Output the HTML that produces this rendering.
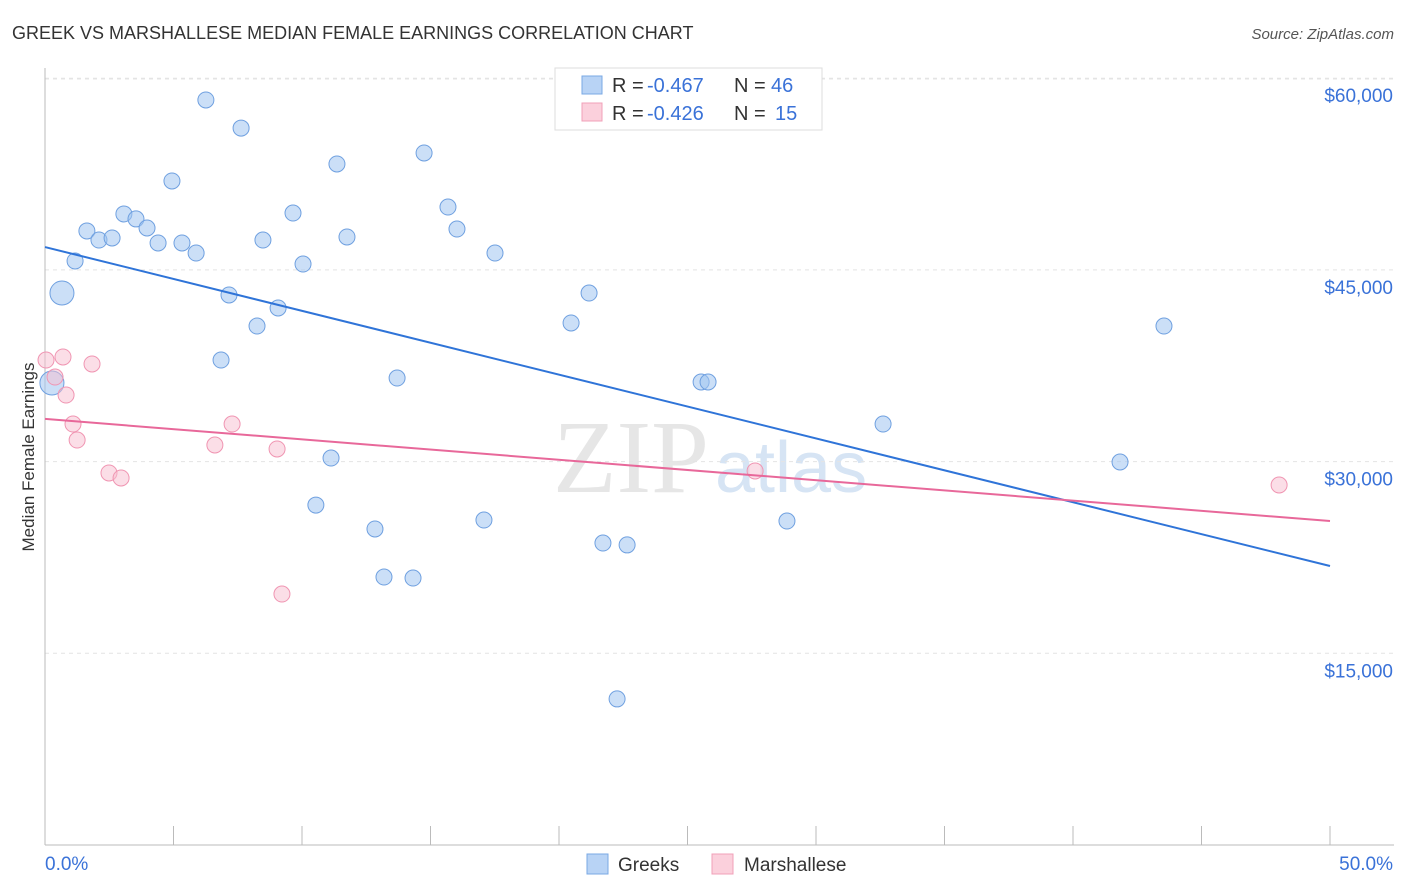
<!DOCTYPE html>
<html><head><meta charset="utf-8"><style>
body{margin:0;background:#fff;font-family:"Liberation Sans",sans-serif;}
svg{display:block}
</style></head><body>
<svg id="chart" width="1406" height="892">
<text x="12" y="39" font-size="18" fill="#333">GREEK VS MARSHALLESE MEDIAN FEMALE EARNINGS CORRELATION CHART</text>
<text x="1394" y="39" font-size="15" fill="#555" text-anchor="end" font-style="italic">Source: ZipAtlas.com</text>
<text x="553" y="492" font-size="104" fill="#e6e6e6" font-family="Liberation Serif,serif">ZIP<tspan fill="#d6e4f4" font-family="Liberation Sans,sans-serif" font-size="72" dx="6">atlas</tspan></text>
<g id="grid"></g><g id="axes"></g><g id="marks"></g>
<text transform="translate(34,457) rotate(-90)" font-size="17" fill="#333" text-anchor="middle">Median Female Earnings</text>
<g>
<rect x="555" y="68" width="267" height="62" fill="#fff" stroke="#ddd"/>
<rect x="582" y="76" width="20" height="18" fill="#b8d3f5" stroke="#7aa8e4"/>
<text x="612" y="92" font-size="20" fill="#333">R =</text>
<text x="647" y="92" font-size="20" fill="#3a72d8">-0.467</text>
<text x="734" y="92" font-size="20" fill="#333">N =</text>
<text x="771" y="92" font-size="20" fill="#3a72d8">46</text>
<rect x="582" y="103" width="20" height="18" fill="#fbd0dc" stroke="#f0a0b8"/>
<text x="612" y="120" font-size="20" fill="#333">R =</text>
<text x="647" y="120" font-size="20" fill="#3a72d8">-0.426</text>
<text x="734" y="120" font-size="20" fill="#333">N =</text>
<text x="775" y="120" font-size="20" fill="#3a72d8">15</text>
</g>
<g>
<rect x="587" y="854" width="21" height="20" fill="#b8d3f5" stroke="#7aa8e4"/>
<text x="618" y="871" font-size="19" fill="#333">Greeks</text>
<rect x="712" y="854" width="21" height="20" fill="#fbd0dc" stroke="#f0a0b8"/>
<text x="744" y="871" font-size="19" fill="#333">Marshallese</text>
</g>
</svg>
<script>
const greekX=[6.26,7.63,4.94,11.36,14.75,3.07,3.54,1.63,3.97,2.10,2.61,4.40,5.33,5.88,8.48,9.65,11.75,15.68,16.03,17.51,1.17,10.04,0.66,7.16,9.07,8.25,21.17,20.47,43.54,6.85,13.70,25.53,25.80,0.27,32.61,11.13,41.83,10.54,17.08,28.87,12.84,21.71,22.65,13.19,14.32,22.26];
const greekY=[58300,56100,51960,53290,54150,49380,48990,48050,48280,47340,47500,47110,47110,46320,47340,49450,47580,49920,48200,46320,45700,45460,43190,43040,42020,40610,43190,40850,40610,37950,36540,36230,36230,36150,32940,30280,29970,26600,25430,25350,24730,23630,23480,20970,20890,11430];
const greekBig=[22,33];
const marshX=[0.04,0.70,1.83,0.39,0.82,1.09,1.25,7.28,6.61,9.03,2.49,2.96,27.63,48.02,9.22];
const marshY=[37950,38190,37640,36620,35210,32940,31690,32940,31300,30990,29110,28720,29270,28170,19640];
const greekTrend=[46790,21830];
const marshTrend=[33340,25350];
const yTicks=[15000,30000,45000,60000];
const yTickLabels=["$15,000","$30,000","$45,000","$60,000"];
const xTickCount=10;

const NS="http://www.w3.org/2000/svg";
const X=v=>45+v/50*1285;
const Y=v=>845-v/78.25;
function mk(tag,attrs,parent){const e=document.createElementNS(NS,tag);for(const k in attrs)e.setAttribute(k,attrs[k]);document.getElementById(parent).appendChild(e);return e;}

yTicks.forEach((t,i)=>{
  const g=mk('line',{x1:45,x2:1394,y1:Y(t),y2:Y(t),stroke:'#e4e4e4','stroke-dasharray':'4,4'},'grid');
  
  
  const l=mk('text',{x:1393,y:Y(t)+24,'text-anchor':'end','font-size':19,fill:'#3a72d8'},'axes');
  l.textContent=yTickLabels[i];
  
  
});
const topGrid=mk('line',{x1:45,x2:1394,y1:79,y2:79,stroke:'#e4e4e4','stroke-dasharray':'4,4'},'grid');


const ya=mk('line',{x1:45,x2:45,y1:68,y2:845,stroke:'#bbb'},'axes');


const xa=mk('line',{x1:45,x2:1394,y1:845,y2:845,stroke:'#bbb'},'axes');


for(let i=1;i<=xTickCount;i++){
  const t=mk('line',{x1:X(i*5),x2:X(i*5),y1:826,y2:845,stroke:'#bbb'},'axes');
  
  
}
const xl0=mk('text',{x:45,y:870,'font-size':19,fill:'#3a72d8'},'axes');
xl0.textContent='0.0%';


const xl1=mk('text',{x:1393,y:870,'font-size':19,fill:'#3a72d8','text-anchor':'end'},'axes');
xl1.textContent='50.0%';



greekX.forEach((x,i)=>{
  const c=mk('circle',{cx:X(x),cy:Y(greekY[i]),r:greekBig.includes(i)?12:8,fill:'rgba(160,196,240,0.55)',stroke:'#6fa0e0','stroke-width':1},'marks');
  
  
});
marshX.forEach((x,i)=>{
  const c=mk('circle',{cx:X(x),cy:Y(marshY[i]),r:8,fill:'rgba(248,190,208,0.5)',stroke:'#f095b2','stroke-width':1},'marks');
  
  
});
const bl=mk('line',{x1:X(0),y1:Y(greekTrend[0]),x2:X(50),y2:Y(greekTrend[1]),stroke:'#2f74d8','stroke-width':2},'marks');


const pl=mk('line',{x1:X(0),y1:Y(marshTrend[0]),x2:X(50),y2:Y(marshTrend[1]),stroke:'#e8689a','stroke-width':2},'marks');


</script>
</body></html>
